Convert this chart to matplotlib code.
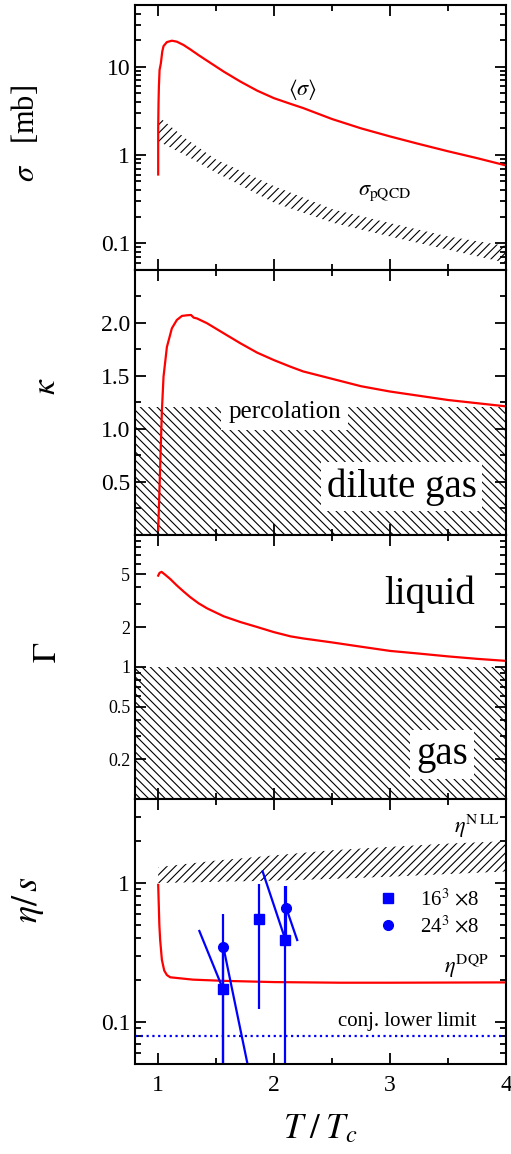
import numpy as np
import matplotlib
matplotlib.use("Agg")
import matplotlib.pyplot as plt
from matplotlib.ticker import FixedLocator, NullFormatter, FixedFormatter, LogLocator

plt.rcParams['font.family'] = 'serif'
plt.rcParams['font.serif'] = ['Liberation Serif', 'DejaVu Serif']
plt.rcParams['mathtext.fontset'] = 'stix'
plt.rcParams['hatch.linewidth'] = 0.8

# ---------------- data ----------------
# panel 1: cross section
T_sigma = [1.0, 1.0, 1.003, 1.006, 1.012, 1.023, 1.035, 1.046, 1.075, 1.118, 1.161, 1.219,
           1.277, 1.349, 1.421, 1.565, 1.71, 1.854, 1.998, 2.142, 2.25, 2.5, 2.75, 3.0,
           3.25, 3.5, 3.75, 4.0]
sigma = [0.6, 2.0, 3.9, 5.9, 9.2, 10.9, 14.8, 17.1, 19.0, 19.7, 19.2, 17.6,
         15.7, 13.5, 11.7, 8.8, 6.77, 5.35, 4.4, 3.79, 3.4, 2.55, 2.0, 1.62,
         1.33, 1.1, 0.92, 0.76]
T_pqcd = [1.0, 1.25, 1.5, 2.0, 2.51, 2.99, 3.49, 4.0]
pqcd_hi = [2.73, 1.49, 0.885, 0.443, 0.241, 0.17, 0.12, 0.093]
pqcd_lo = [1.43, 0.97, 0.63, 0.287, 0.17, 0.12, 0.085, 0.06]

# panel 2: kappa
T_kappa = [1.0, 1.009, 1.017, 1.032, 1.046, 1.075, 1.118, 1.161, 1.205, 1.248, 1.283,
           1.306, 1.335, 1.421, 1.565, 1.71, 1.854, 1.998, 2.142, 2.25, 2.5, 2.75,
           3.0, 3.25, 3.5, 3.75, 4.0]
kappa = [0.04, 0.35, 0.64, 1.17, 1.49, 1.77, 1.947, 2.026, 2.064, 2.07, 2.073,
         2.048, 2.04, 1.995, 1.9, 1.805, 1.717, 1.647, 1.584, 1.54, 1.47, 1.40,
         1.35, 1.31, 1.27, 1.24, 1.21]
perc_x = [0.8, 4.0]
perc_level = 1.2

# panel 3: Gamma
T_gamma = [1.0, 1.012, 1.029, 1.06, 1.104, 1.161, 1.219, 1.277, 1.349, 1.421, 1.565,
           1.71, 1.854, 1.998, 2.142, 2.25, 2.5, 2.75, 3.0, 3.25, 3.5, 3.75, 4.0]
gamma = [4.89, 5.13, 5.22, 4.97, 4.61, 4.12, 3.71, 3.36, 3.02, 2.77, 2.41,
         2.18, 2.0, 1.83, 1.70, 1.64, 1.53, 1.42, 1.32, 1.26, 1.2, 1.15, 1.11]
gas_x = [0.8, 4.0]
gas_level = 1.0

# panel 4: eta/s
T_eta = [1.0, 1.005, 1.01, 1.017, 1.032, 1.052, 1.075, 1.104, 1.3, 1.565, 2.0, 2.57, 3.0, 4.0]
eta_dqp = [0.97, 0.7, 0.5, 0.39, 0.28, 0.235, 0.218, 0.21, 0.202, 0.198, 0.194, 0.192, 0.192, 0.193]
T_nll = [1.0, 1.5, 2.0, 2.5, 3.0, 3.5, 4.0]
nll_hi = [1.3, 1.45, 1.58, 1.72, 1.82, 1.92, 2.0]
nll_lo = [1.0, 1.02, 1.04, 1.07, 1.11, 1.16, 1.21]
lower_limit = 0.08

sq_T = [1.56, 1.873, 2.098]
sq_val = [0.172, 0.552, 0.389]
sq_lo = [0.01, 0.125, 0.01]
sq_hi = [0.35, 0.98, 0.946]
circ_T = [1.562, 2.105]
circ_val = [0.348, 0.659]
circ_lo = [0.01, 0.389]
circ_hi = [0.6, 0.946]
# slanted segments (x0, y0, x1, y1)
seg_x0 = [1.355, 1.562, 1.901, 2.105]
seg_y0 = [0.452, 0.348, 1.21, 0.659]
seg_x1 = [1.56, 1.80, 2.098, 2.199]
seg_y1 = [0.172, 0.038, 0.389, 0.389]

xticks = [1, 2, 3, 4]

RED = '#ff0000'
BLUE = '#0000ff'

fig = plt.figure(figsize=(5.11, 11.54), dpi=100)
W, H = 511.0, 1154.0
left, right = 135 / W, 506 / W
top_px, bot_px = 5.0, 1064.0
ph = (bot_px - top_px) / 4
axes = []
for i in range(4):
    t = top_px + i * ph
    ax = fig.add_axes([left, 1 - (t + ph) / H, right - left, ph / H])
    axes.append(ax)

for ax in axes:
    ax.set_xlim(0.8, 4.0)
    ax.xaxis.set_major_locator(FixedLocator(xticks))
    ax.xaxis.set_minor_locator(FixedLocator([1.5, 2.5, 3.5]))
    ax.tick_params(which='both', direction='in', top=True, right=True, width=1.3)
    ax.tick_params(which='major', length=8, labelsize=17)
    ax.tick_params(which='minor', length=4.5)
    for s in ax.spines.values():
        s.set_linewidth(1.5)
for ax in axes[:3]:
    ax.tick_params(labelbottom=False)


def ylab(text, px, py, size):
    fig.text(px / W, 1 - py / H, text, rotation=90, ha='center', va='center', fontsize=size)


# ---- panel 1
ax = axes[0]
ax.set_yscale('log')
ax.set_ylim(0.05, 50)
ax.fill_between(T_pqcd, pqcd_lo, pqcd_hi, facecolor='none', edgecolor='black',
                hatch='////', linewidth=0)
ax.plot(T_sigma, sigma, color=RED, lw=1.6)
ax.yaxis.set_major_locator(FixedLocator([0.1, 1, 10]))
ax.yaxis.set_major_formatter(FixedFormatter(['0.1', '1', '10']))
ax.yaxis.set_minor_locator(LogLocator(base=10, subs=np.arange(2, 10)))
ax.yaxis.set_minor_formatter(NullFormatter())
ax.text(2.245, 5.45, r'$\langle\sigma\rangle$', fontsize=16, ha='center', va='center')
ax.text(2.954, 0.365, r'$\sigma_{\rm pQCD}$', fontsize=16, ha='center', va='center')
ylab(r'$\sigma$   [mb]', 25, 133, 22)

# ---- panel 2
ax = axes[1]
ax.set_ylim(0, 2.5)
ax.fill_between(perc_x, [0, 0], [perc_level, perc_level], facecolor='none',
                edgecolor='black', hatch='\\\\\\\\', linewidth=0)
ax.plot(T_kappa, kappa, color=RED, lw=1.6)
ax.yaxis.set_major_locator(FixedLocator([0.5, 1.0, 1.5, 2.0]))
ax.yaxis.set_major_formatter(FixedFormatter(['0.5', '1.0', '1.5', '2.0']))
ax.yaxis.set_minor_locator(FixedLocator([0.25, 0.75, 1.25, 1.75, 2.25]))
ax.text(2.09, 1.16, 'percolation', fontsize=18, ha='center', va='center',
        bbox=dict(boxstyle='square,pad=0.3', fc='white', ec='none'))
ax.text(3.1, 0.45, 'dilute gas', fontsize=28, ha='center', va='center',
        bbox=dict(boxstyle='square,pad=0.15', fc='white', ec='none'))
ylab(r'$\kappa$', 47, 386, 24)

# ---- panel 3
ax = axes[2]
ax.set_yscale('log')
ax.set_ylim(0.1, 10)
ax.fill_between(gas_x, [0.1, 0.1], [gas_level, gas_level], facecolor='none',
                edgecolor='black', hatch='\\\\\\\\', linewidth=0)
ax.plot(T_gamma, gamma, color=RED, lw=1.6)
ax.yaxis.set_major_locator(FixedLocator([0.2, 0.5, 1, 2, 5]))
ax.yaxis.set_major_formatter(FixedFormatter(['0.2', '0.5', '1', '2', '5']))
ax.yaxis.set_minor_locator(FixedLocator([0.3, 0.4, 0.6, 0.7, 0.8, 0.9, 3, 4, 6, 7, 8, 9]))
ax.yaxis.set_minor_formatter(NullFormatter())
ax.tick_params(axis='y', which='major', labelsize=13)
ax.text(3.345, 3.56, 'liquid', fontsize=28, ha='center', va='center')
ax.text(3.447, 0.218, 'gas', fontsize=28, ha='center', va='center',
        bbox=dict(boxstyle='square,pad=0.15', fc='white', ec='none'))
ylab(r'$\Gamma$', 48, 652, 24)

# ---- panel 4
ax = axes[3]
ax.set_yscale('log')
ax.set_ylim(0.05, 4)
ax.fill_between(T_nll, nll_lo, nll_hi, facecolor='none', edgecolor='black',
                hatch='////', linewidth=0)
ax.plot(T_eta, eta_dqp, color=RED, lw=1.6)
ax.axhline(lower_limit, color=BLUE, lw=1.6, ls=(0, (1, 1.6)))
ax.vlines(sq_T, sq_lo, sq_hi, color=BLUE, lw=1.6)
ax.vlines(circ_T, circ_lo, circ_hi, color=BLUE, lw=1.6)
for x0, y0, x1, y1 in zip(seg_x0, seg_y0, seg_x1, seg_y1):
    ax.plot([x0, x1], [y0, y1], color=BLUE, lw=1.6)
h1, = ax.plot(sq_T, sq_val, 's', color=BLUE, ms=7.5, ls='none', label=r'16$^{3}$ $\times$8')
h2, = ax.plot(circ_T, circ_val, 'o', color=BLUE, ms=7, ls='none', label=r'24$^{3}$ $\times$8')
ax.legend(handles=[h1, h2], loc='center left', bbox_to_anchor=(0.655, 0.57),
          frameon=False, fontsize=15, numpoints=1, handlelength=1.0,
          handletextpad=1.0, labelspacing=0.25, borderpad=0, borderaxespad=0)
ax.yaxis.set_major_locator(FixedLocator([0.1, 1]))
ax.yaxis.set_major_formatter(FixedFormatter(['0.1', '1']))
ax.yaxis.set_minor_locator(LogLocator(base=10, subs=np.arange(2, 10)))
ax.yaxis.set_minor_formatter(NullFormatter())
ax.xaxis.set_major_formatter(FixedFormatter(['1', '2', '3', '4']))
ax.tick_params(axis='x', which='major', pad=8)
ax.text(3.55, 2.3, r'$\eta^{\rm N\,LL}$', fontsize=16, ha='left', va='baseline')
ax.text(3.466, 0.225, r'$\eta^{\rm DQP}$', fontsize=16, ha='left', va='baseline')
ax.text(3.144, 0.1016, 'conj. lower limit', fontsize=15, ha='center', va='center')
ylab(r'$\eta/\,s$', 28, 900, 26)
ax.set_xlabel(r'$T\;/\;T_c$', fontsize=25, labelpad=12)

fig.savefig('out.png', dpi=100)
